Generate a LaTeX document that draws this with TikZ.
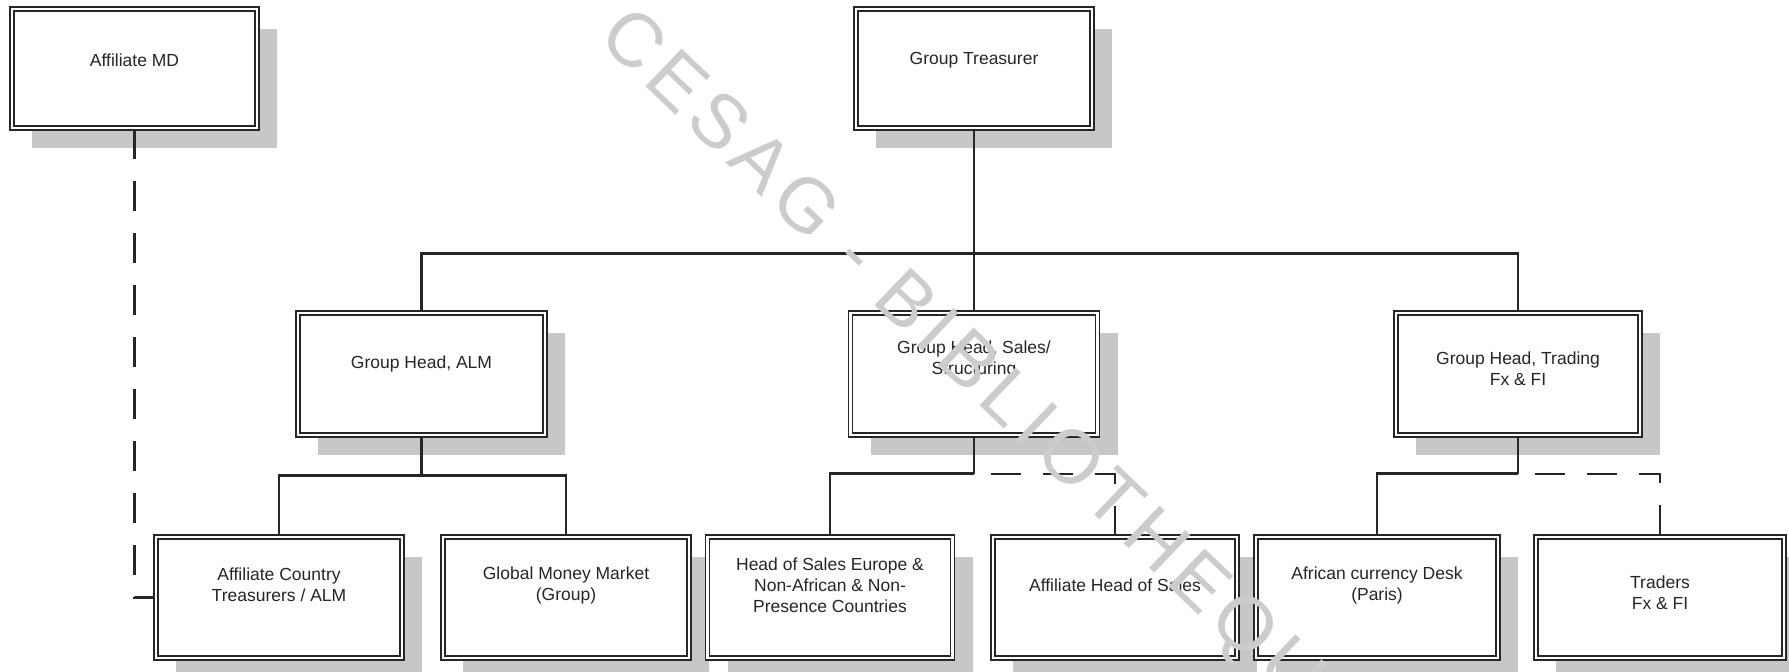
\documentclass[tikz,border=0pt]{standalone}
\usepackage{fontspec}
\setmainfont{Liberation Sans}
\newfontfamily\wmfont[LetterSpace=10]{Liberation Sans}
\usetikzlibrary{shadows}
\definecolor{ink}{gray}{0.15}
\definecolor{shade}{gray}{0.78}
\definecolor{wmark}{gray}{0.80}
\begin{document}
\begin{tikzpicture}[x=1pt,y=-1pt,
  orgbox/.style={draw=ink, line width=1.6pt, double=white, double distance=2.4pt,
    fill=white, inner sep=0pt, minimum width=246pt, minimum height=121pt,
    drop shadow={shadow xshift=20pt, shadow yshift=-20pt, fill=shade, opacity=1}},
  lbl/.style={text=ink, align=center, inner sep=0pt, font=\fontsize{17.5}{21}\selectfont},
  conn/.style={draw=ink, line width=2.8pt},
  dashconn/.style={draw=ink, line width=2.4pt, dash pattern=on 30pt off 22pt, dash phase=35pt},
  wm/.style={text=wmark, inner sep=0pt, font=\wmfont\fontsize{76}{76}\selectfont}
]
\useasboundingbox (0,0) rectangle (1789,672);
\fill[white] (0,0) rectangle (1789,672);

% level 1
\node[orgbox, minimum width=245pt, minimum height=119pt] (amd) at (134.5,68.5) {};
\node[orgbox, minimum width=236pt, minimum height=119pt] (treas) at (974,68.5) {};
% level 2
\node[orgbox, minimum width=247pt, minimum height=122pt] (alm) at (421.5,374) {};
\node[orgbox, minimum width=247pt, minimum height=122pt] (sales) at (974,374) {};
\node[orgbox, minimum width=244pt, minimum height=122pt] (trading) at (1518,374) {};
% level 3
\node[orgbox] (acta) at (279,597.5) {};
\node[orgbox] (gmm) at (566,597.5) {};
\node[orgbox, minimum width=245pt] (hse) at (830,597.5) {};
\node[orgbox, minimum width=244pt] (ahs) at (1115,597.5) {};
\node[orgbox, minimum width=242pt] (afr) at (1377,597.5) {};
\node[orgbox, minimum width=248pt] (trd) at (1660,597.5) {};

% labels
\node[lbl] (tamd) at (134.5,60) {Affiliate MD};
\node[lbl] (ttreas) at (974,60) {Group Treasurer};
\node[lbl] (talm) at (421.5,364) {Group Head, ALM};
\node[lbl] (tsales) at (974,359) {Group Head, Sales/\\Structuring};
\node[lbl] (ttrading) at (1518,369) {Group Head, Trading\\Fx \& FI};
\node[lbl] (tacta) at (279,585) {Affiliate Country\\Treasurers / ALM};
\node[lbl] (tgmm) at (566,585) {Global Money Market\\(Group)};
\node[lbl] (thse) at (830,585) {Head of Sales Europe \&\\Non-African \& Non-\\Presence Countries};
\node[lbl] (tahs) at (1115,585) {Affiliate Head of Sales};
\node[lbl] (tafr) at (1377,585) {African currency Desk\\(Paris)};
\node[lbl] (ttrd) at (1660,593) {Traders\\Fx \& FI};

% connectors
\draw[conn] (treas.south) -- ++(0,125) coordinate (bus);
\draw[conn] (alm.north) |- (bus) -| (trading.north);
\draw[conn] (bus) -- (sales.north);
\draw[conn] (alm.south) -- ++(0,40) coordinate (j1);
\draw[conn] (acta.north) |- (j1) -| (gmm.north);
\draw[conn] (sales.south) -- ++(0,38) coordinate (j2);
\draw[conn] (hse.north) |- (j2);
\draw[dashconn] (j2) -| (ahs.north);
\draw[conn] (trading.south) -- ++(0,38) coordinate (j3);
\draw[conn] (afr.north) |- (j3);
\draw[dashconn] (j3) -| (trd.north);
\draw[dashconn, dash phase=0pt] (amd.south) |- (acta.west);

% watermark
\node[wm, rotate=-43.7] (wmk) at (980,379) {CESAG - BIBLIOTHEQUE};
\end{tikzpicture}
\end{document}
